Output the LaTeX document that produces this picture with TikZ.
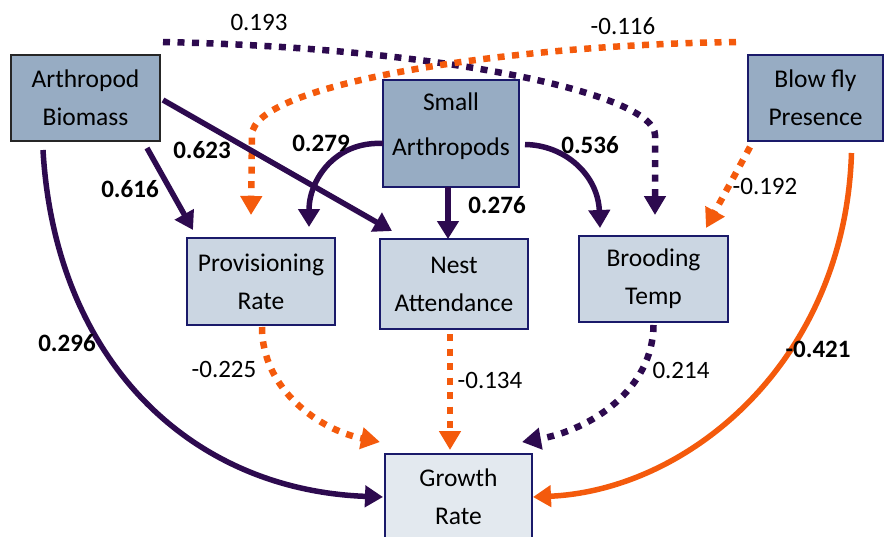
\documentclass[tikz,border=0pt]{standalone}
\usepackage{fontspec}
\setmainfont{Carlito}
\usetikzlibrary{arrows.meta,calc}
\definecolor{pur}{HTML}{2D0A4F}
\definecolor{org}{HTML}{F45A0C}
\definecolor{topfill}{HTML}{97ACC3}
\definecolor{midfill}{HTML}{CBD6E2}
\definecolor{lowfill}{HTML}{E3E9EF}
\definecolor{edgecol}{HTML}{1A1A6A}
\begin{document}
\begin{tikzpicture}[x=1pt,y=-1pt,
  box/.style={draw=edgecol,line width=2pt,inner sep=0pt,outer sep=0pt,align=center,
    font=\fontsize{25.5}{38}\selectfont},
  topbox/.style={box,fill=topfill},
  midbox/.style={box,fill=midfill},
  lowbox/.style={box,fill=lowfill},
  sol/.style={line width=5.5pt,-{Triangle[width=21pt,length=18pt]}},
  dots/.style={line width=6.5pt,dash pattern=on 7pt off 7.5pt,-{Triangle[width=21pt,length=19pt]}},
  lab/.style={inner sep=0pt,font=\fontsize{25}{30}\selectfont},
  blab/.style={lab,font=\fontsize{25}{30}\selectfont\bfseries}
]
\useasboundingbox (0,0) rectangle (884,536);
\fill[white] (0,0) rectangle (884,536);

% boxes
\node[topbox,minimum width=149pt,minimum height=86pt,draw=black!85] (AB) at (85.5,98) {Arthropod\\Biomass};
\node[topbox,minimum width=136pt,minimum height=107pt,
  label={[align=center,inner sep=0pt,font=\fontsize{25.5}{45}\selectfont,yshift=7.5pt]center:Small\\Arthropods}]
  (SA) at (451,133.5) {};
\node[topbox,minimum width=135pt,minimum height=86pt] (BF) at (815.5,98) {Blow fly\\Presence};
\node[midbox,minimum width=148pt,minimum height=87pt] (PR) at (261,281.5) {Provisioning\\Rate};
\node[midbox,minimum width=148pt,minimum height=90pt] (NA) at (454,284) {Nest\\Attendance};
\node[midbox,minimum width=149pt,minimum height=86pt] (BT) at (653.5,279) {Brooding\\Temp};
\node[lowbox,minimum width=147pt,minimum height=86pt] (GR) at (458.5,497) {Growth\\Rate};

% long dotted arrows on top
\draw[dots,pur] ([xshift=3pt,yshift=13pt]AB.north east) .. controls (450,48) and (655,95) .. (655,135)
  -- ([xshift=1.5pt,yshift=21pt]BT.north);
\draw[dots,org] ([xshift=-12pt,yshift=13pt]BF.north west) .. controls (500,45) and (252,85) .. (252,135)
  -- ([xshift=-10pt,yshift=23pt]PR.north);

% solid arrows
\draw[sol,pur] ([xshift=-13pt,yshift=-7pt]AB.south east) -- ([xshift=6pt,yshift=8pt]PR.north west);
\draw[sol,pur] ([xshift=3pt,yshift=-2pt]AB.east) -- ([xshift=12pt,yshift=8pt]NA.north west);
\draw[sol,pur] ([xshift=-42.5pt,yshift=-9pt]AB.south) .. controls (55,360) and (190,490) .. ([xshift=-2pt]GR.west);
\draw[sol,pur] ([yshift=-10pt]SA.west) .. controls (335,141) and (309,180) .. ([xshift=-26pt,yshift=11pt]PR.north east);
\draw[sol,pur] ([xshift=-3pt]SA.south) -- ([xshift=-6pt]NA.north);
\draw[sol,pur] ([xshift=6pt,yshift=-11pt]SA.east) .. controls (565,145) and (598,175) .. ([xshift=21pt,yshift=8pt]BT.north west);
\draw[sol,org] ([xshift=36pt,yshift=-12pt]BF.south) .. controls (845,360) and (690,490) .. ([xshift=1pt]GR.east);

% dotted arrows
\draw[dots,org] ([xshift=2pt,yshift=-6pt]BF.south west) -- ([xshift=-22pt,yshift=8pt]BT.north east);
\draw[dots,org] ([xshift=1pt,yshift=-2pt]PR.south) .. controls (262,390) and (320,430) .. ([xshift=-5pt,yshift=12pt]GR.north west);
\draw[dots,org] ([xshift=-4pt,yshift=-5pt]NA.south) -- ([xshift=-8.5pt,yshift=4pt]GR.north);
\draw[dots,pur] ([yshift=-3pt]BT.south) .. controls (653,390) and (590,430) .. ([xshift=-10pt,yshift=12pt]GR.north east);

% labels
\node[lab] (l193) at (259,22) {0.193};
\node[lab] (l116) at (623,26) {-0.116};
\node[blab] (l616) at (130,189) {0.616};
\node[blab] (l623) at (202,150) {0.623};
\node[blab] (l279) at (321,143) {0.279};
\node[blab] (l276) at (497,205) {0.276};
\node[blab] (l536) at (590,145) {0.536};
\node[lab] (l192) at (765,186) {-0.192};
\node[blab] (l296) at (67,343) {0.296};
\node[lab] (l225) at (224,369) {-0.225};
\node[lab] (l134) at (490,380) {-0.134};
\node[lab] (l214) at (681,370) {0.214};
\node[blab] (l421) at (818,349) {-0.421};
\end{tikzpicture}
\end{document}
